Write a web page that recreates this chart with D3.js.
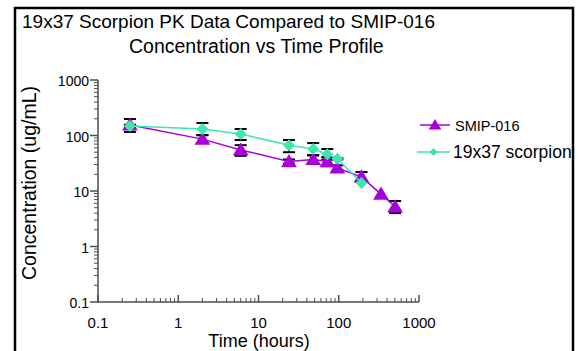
<!DOCTYPE html>
<html><head><meta charset="utf-8">
<script src="https://cdn.jsdelivr.net/npm/d3@7"></script>
<style>body{margin:0;background:#fff}svg{display:block;font-family:"Liberation Sans",Arial,sans-serif}</style>
</head><body>
<script>
const smipTime = [0.25, 2, 6, 24, 48, 72, 96, 192, 336, 504];
const smipConc = [155, 86, 55, 34, 37, 34, 26, 18, 8.8, 5.2];
const smipLo   = [116, 73, 43, 31, 31, 28, 23, 14.7, 8.8, 4.0];
const smipHi   = [198, 101, 67, 37, 44, 41, 29, 22, 8.8, 6.6];
const scorTime = [0.25, 2, 6, 24, 48, 72, 96, 192];
const scorConc = [148, 131, 106, 67, 57, 46, 38, 14];
const scorLo   = [140, 102, 83, 50, 44, 37, 37, 14];
const scorHi   = [156, 168, 131, 83, 73, 57, 39, 14];
const xTicks = [0.1, 1, 10, 100, 1000];
const yTicks = [0.1, 1, 10, 100, 1000];
const tickLabel = d => d >= 1 ? String(d) : "0.1";

const W = 582, H = 351;
const svg = d3.select("body").append("svg").attr("width", W).attr("height", H);
svg.append("rect").attr("x",15).attr("y",8).attr("width",558).attr("height",360)
  .attr("fill","none").attr("stroke","#000").attr("stroke-width",2.5);

const x = d3.scaleLog().domain([0.1,1000]).range([98,419]);
const y = d3.scaleLog().domain([0.1,1000]).range([302,80]);
const axisCol = "#4d4d4d";

const minors = [];
for (let e = -1; e < 3; e++) for (let k = 2; k <= 9; k++) minors.push(k*Math.pow(10,e));

const xa = svg.append("g").attr("transform","translate(0,302)");
xa.append("line").attr("x1",x(0.1)).attr("x2",x(1000)).attr("stroke",axisCol).attr("stroke-width",1.5);
xa.selectAll(".mn").data(minors).join("line").attr("x1",d=>x(d)).attr("x2",d=>x(d)).attr("y1",0).attr("y2",-4).attr("stroke",axisCol);
xa.selectAll(".mj").data(xTicks).join("line").attr("x1",d=>x(d)).attr("x2",d=>x(d)).attr("y1",0).attr("y2",-7).attr("stroke",axisCol).attr("stroke-width",1.5);
xa.selectAll("text").data(xTicks).join("text").attr("x",d=>x(d)).attr("y",26).attr("text-anchor","middle")
  .attr("font-size",15).text(tickLabel);

const ya = svg.append("g").attr("transform","translate(98,0)");
ya.append("line").attr("y1",y(0.1)).attr("y2",y(1000)).attr("stroke",axisCol).attr("stroke-width",1.5);
ya.selectAll(".mn").data(minors).join("line").attr("y1",d=>y(d)).attr("y2",d=>y(d)).attr("x1",0).attr("x2",-4).attr("stroke",axisCol);
ya.selectAll(".mj").data(yTicks).join("line").attr("y1",d=>y(d)).attr("y2",d=>y(d)).attr("x1",0).attr("x2",-8).attr("stroke",axisCol).attr("stroke-width",1.5);
ya.selectAll("text").data(yTicks).join("text").attr("x",-9).attr("y",d=>y(d)+6).attr("text-anchor","end")
  .attr("font-size",14).text(tickLabel);

svg.append("text").attr("x",22).attr("y",28).attr("font-size",19).text("19x37 Scorpion PK Data Compared to SMIP-016");
svg.append("text").attr("x",129).attr("y",53).attr("font-size",19.5).text("Concentration vs Time Profile");
svg.append("text").attr("x",259).attr("y",347).attr("text-anchor","middle").attr("font-size",18).text("Time (hours)");
svg.append("text").attr("transform","translate(36,183) rotate(-90)").attr("text-anchor","middle").attr("font-size",19.5).text("Concentration (ug/mL)");

const magenta = "#a800d8", teal = "#3fe6b2";
const diamond = r => `M0,${-r}L${r},0L0,${r}L${-r},0Z`;
const triangle = r => `M0,${-r}L${r*1.05},${r*0.75}L${-r*1.05},${r*0.75}Z`;
const series = [
  {t: smipTime, c: smipConc, lo: smipLo, hi: smipHi, col: magenta, shape: triangle(7.5)},
  {t: scorTime, c: scorConc, lo: scorLo, hi: scorHi, col: teal, shape: diamond(6)}
];
series.forEach(s => {
  const pts = s.t.map((t,i)=>({t, c:s.c[i], lo:s.lo[i], hi:s.hi[i]}));
  const g = svg.append("g");
  pts.forEach(p => {
    if (p.hi/p.lo < 1.05) return;
    g.append("line").attr("x1",x(p.t)).attr("x2",x(p.t)).attr("y1",y(p.lo)).attr("y2",y(p.hi)).attr("stroke","#000").attr("stroke-width",1.5);
    [p.lo,p.hi].forEach(v => g.append("line").attr("x1",x(p.t)-6).attr("x2",x(p.t)+6).attr("y1",y(v)).attr("y2",y(v)).attr("stroke","#000").attr("stroke-width",2));
  });
});
series.forEach(s => {
  const pts = s.t.map((t,i)=>({t, c:s.c[i]}));
  svg.append("path").datum(pts).attr("fill","none").attr("stroke",s.col).attr("stroke-width",1.5)
    .attr("d", d3.line().x(d=>x(d.t)).y(d=>y(d.c)));
  svg.selectAll(null).data(pts).join("path").attr("transform",d=>`translate(${x(d.t)},${y(d.c)})`)
    .attr("d", s.shape).attr("fill",s.col);
});

const leg = [
  {label:"SMIP-016", col:magenta, shape:triangle(6), y:125, x1:420, x2:450, fs:14.5, tx:455},
  {label:"19x37 scorpion", col:teal, shape:diamond(4), y:152, x1:417, x2:450, fs:17.5, tx:453}
];
leg.forEach(l => {
  svg.append("line").attr("x1",l.x1).attr("x2",l.x2).attr("y1",l.y).attr("y2",l.y).attr("stroke",l.col).attr("stroke-width",1.5);
  svg.append("path").attr("transform",`translate(${(l.x1+l.x2)/2},${l.y})`).attr("d",l.shape).attr("fill",l.col);
  svg.append("text").attr("x",l.tx).attr("y",l.y+5.5).attr("font-size",l.fs).text(l.label);
});
</script>
</body></html>
